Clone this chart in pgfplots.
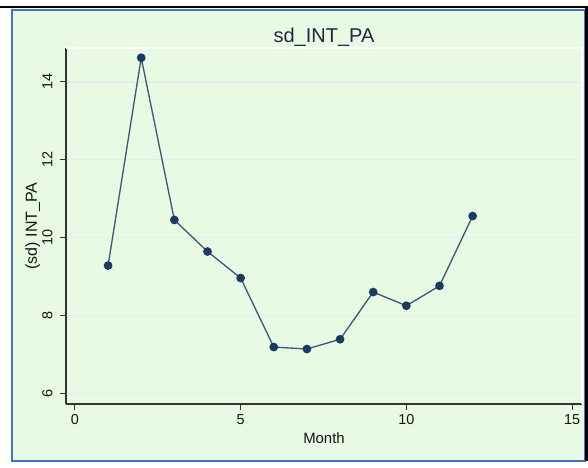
\documentclass[border=0pt]{standalone}
\usepackage{fontspec}
\setmainfont{Liberation Sans}
\usepackage{pgfplots}
\pgfplotsset{compat=1.18}
\definecolor{bgc}{RGB}{232,250,228}
\definecolor{gridc}{RGB}{229,237,236}
\definecolor{frameblue}{RGB}{68,114,196}
\definecolor{linec}{RGB}{60,90,120}
\definecolor{markc}{RGB}{26,58,98}
\definecolor{titlec}{RGB}{30,42,64}
\definecolor{textc}{RGB}{20,20,20}
\pgfplotstableread{
x y
1 9.29
2 14.62
3 10.46
4 9.65
5 8.97
6 7.20
7 7.15
8 7.40
9 8.61
10 8.26
11 8.77
12 10.56
}\datatab
\begin{document}
\begin{tikzpicture}
\path[use as bounding box] (0,0) rectangle (441pt,350.25pt);
\fill[white] (0,0) rectangle (441pt,350.25pt);
\fill[bgc] (9pt,4.5pt) rectangle (439pt,343.5pt);
\draw[frameblue, line width=1.3pt] (9.2pt,4.6pt) rectangle (439pt,342.9pt);
\draw[black, line width=1.5pt] (0,344.9pt) -- (441pt,344.9pt);
\fill[black] (439pt,4.5pt) rectangle (441pt,345.5pt);
\begin{axis}[
  at={(49.5pt,47.25pt)}, anchor=south west,
  scale only axis, width=387pt, height=267pt,
  xmin=-0.27, xmax=15.3, ymin=5.74, ymax=14.87,
  axis x line*=bottom, axis y line*=left,
  axis line style={draw=black!80, line width=0.8pt},
  xtick={0,5,10,15}, ytick={6,8,10,12,14},
  tick align=outside, major tick length=4.5pt,
  tick style={draw=black!80, line width=0.8pt},
  ymajorgrids, grid style={draw=gridc, line width=0.9pt},
  /pgf/number format/assume math mode=true,
  ticklabel style={font=\fontsize{10.8}{12}\selectfont, text=textc},
  yticklabel style={rotate=90, anchor=south, inner sep=0pt},
  yticklabel shift=5.5pt,
  xticklabel style={anchor=north, inner sep=0pt},
  xticklabel shift=3.5pt,
  title={sd\_INT\_PA},
  title style={at={(0.5,1)}, anchor=base, yshift=-2pt, font=\fontsize{15}{18}\selectfont, text=titlec},
  xlabel={Month},
  xlabel style={at={(0.5,0)}, anchor=base, yshift=-29.5pt, font=\fontsize{11.2}{13}\selectfont, text=textc},
  ylabel={(sd) INT\_PA},
  ylabel style={at={(0,0.5)}, anchor=base, yshift=21.75pt, font=\fontsize{12}{14}\selectfont, text=textc},
  clip=false,
]
\addplot[color=linec, line width=1pt, mark=*, mark size=2.75pt, mark options={fill=markc, draw=markc}] table[x=x,y=y] {\datatab};
\draw[white, line width=0.8pt] (rel axis cs:0,1) -- (rel axis cs:1,1) -- (rel axis cs:1,0);
\end{axis}
\end{tikzpicture}
\end{document}
